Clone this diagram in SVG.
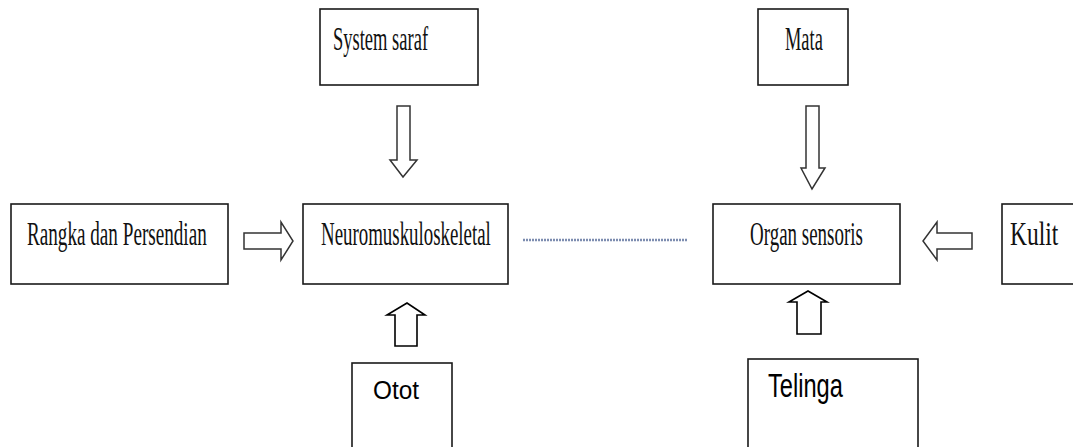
<svg xmlns="http://www.w3.org/2000/svg" width="1073" height="447" viewBox="0 0 1073 447">
<style>
.box{fill:#fff;stroke:#1a1a1a;stroke-width:1.6}
.serif{font-family:"Liberation Serif","Times New Roman",serif;font-size:34px;fill:#111}
.sans{font-family:"Liberation Sans",Arial,sans-serif;fill:#000}
.arr{fill:#fff;stroke:#333;stroke-width:1.5;stroke-linejoin:miter}
.arr2{fill:#fff;stroke:#000;stroke-width:1.6;stroke-linejoin:miter}
</style>
<rect width="1073" height="447" fill="#fff"/>
<g id="system-saraf">
<rect class="box" x="320" y="9" width="158" height="76"/>
<text class="serif" transform="translate(333,50) scale(0.54,1)" textLength="176" lengthAdjust="spacingAndGlyphs">System saraf</text>
</g>
<g id="mata">
<rect class="box" x="758" y="9" width="90" height="76"/>
<text class="serif" transform="translate(785,50) scale(0.54,1)" textLength="70" lengthAdjust="spacingAndGlyphs">Mata</text>
</g>
<g id="rangka">
<rect class="box" x="11" y="204" width="217" height="80"/>
<text class="serif" transform="translate(27,245) scale(0.56,1)" textLength="321" lengthAdjust="spacingAndGlyphs">Rangka dan Persendian</text>
</g>
<g id="neuro">
<rect class="box" x="303" y="204" width="205" height="80"/>
<text class="serif" transform="translate(321,245) scale(0.555,1)" textLength="306" lengthAdjust="spacingAndGlyphs">Neuromuskuloskeletal</text>
</g>
<g id="organ">
<rect class="box" x="713" y="204" width="187" height="80"/>
<text class="serif" transform="translate(750,245) scale(0.556,1)" textLength="203" lengthAdjust="spacingAndGlyphs">Organ sensoris</text>
</g>
<g id="kulit">
<rect class="box" x="1002" y="204" width="90" height="80"/>
<text class="serif" transform="translate(1010,245) scale(0.69,1)" textLength="70" lengthAdjust="spacingAndGlyphs">Kulit</text>
</g>
<g id="otot">
<rect class="box" x="352" y="363" width="100" height="100" stroke="#000"/>
<text class="sans" x="373" y="399" font-size="26" textLength="46" lengthAdjust="spacingAndGlyphs">Otot</text>
</g>
<g id="telinga">
<rect class="box" x="748" y="359" width="170" height="100" stroke="#000"/>
<text class="sans" transform="translate(768,397) scale(0.7,1)" font-size="33" textLength="107" lengthAdjust="spacingAndGlyphs">Telinga</text>
</g>
<g id="connectors">
<polygon class="arr" points="244,233 281,233 281,222 293,241 281,260 281,249 244,249"/>
<polygon class="arr" points="972,233 937,233 937,222 923,241 937,260 937,249 972,249"/>
<polygon class="arr" points="397,106 410,106 410,160 417,160 403,177 390,160 397,160"/>
<polygon class="arr" points="806,106 819,106 819,168 825,168 812,189 801,168 806,168"/>
<polygon class="arr2" points="395,346 417,346 417,315 425,315 407,303 387,315 395,315"/>
<polygon class="arr2" points="797,334 821,334 821,302 827,302 808,291 789,302 797,302"/>
<line x1="523" y1="240" x2="687" y2="240" stroke="#7d8db0" stroke-width="2.5" stroke-dasharray="2,1"/>
</g>
</svg>
